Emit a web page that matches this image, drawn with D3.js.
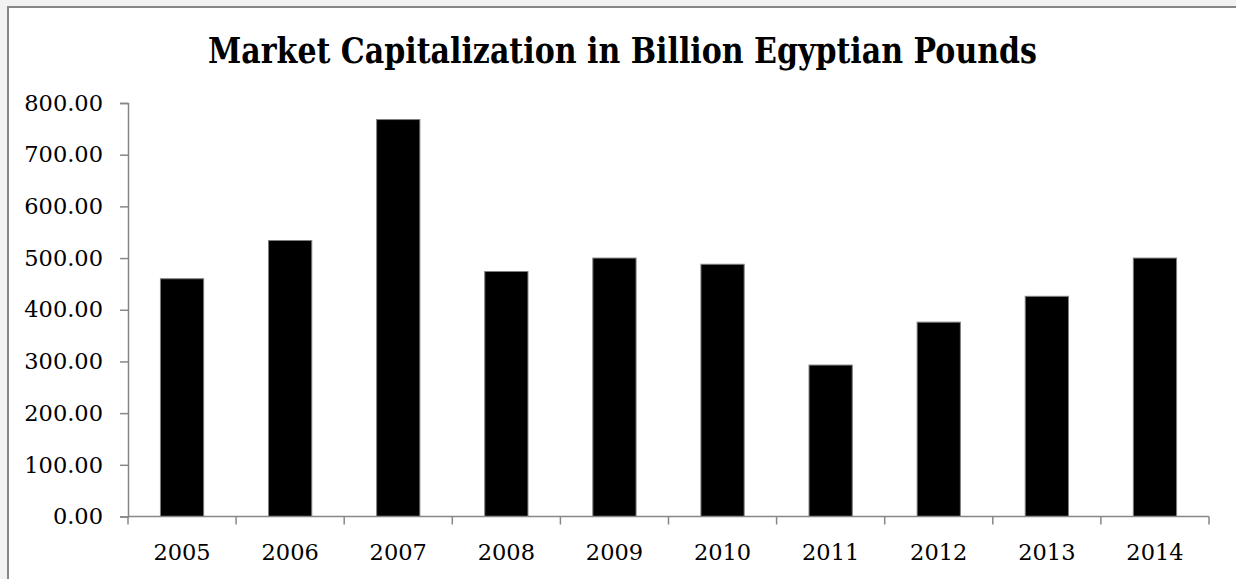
<!DOCTYPE html>
<html lang="en">
<head>
    <meta charset="UTF-8">
    <title>Market Capitalization</title>
    <script src="https://cdn.jsdelivr.net/npm/d3@7"></script>
    <style>
        body { margin: 0; background: #f2f2f2; }
        svg { display: block; }
    </style>
</head>
<body>
    <script>
        // values
        let years = ['2005', '2006', '2007', '2008', '2009', '2010', '2011', '2012', '2013', '2014'];
        let marketCap = [460, 534, 768, 474, 500, 488, 293, 376, 426, 500];
        let yTicks = [0, 100, 200, 300, 400, 500, 600, 700, 800];

        let width = 1236,
            height = 579,
            padding = { top: 103, left: 128, bottom: 62.5, right: 27 };

        let svg = d3.select('body').append('svg').attr('width', width).attr('height', height);

        // chart frame (runs off the right and bottom edges)
        svg.append('rect')
            .attr('x', 8)
            .attr('y', 7)
            .attr('width', width + 20)
            .attr('height', height + 20)
            .attr('fill', '#fff')
            .attr('stroke', '#878787')
            .attr('stroke-width', 2);

        svg.append('text')
            .attr('x', 622.5)
            .attr('y', 63)
            .attr('text-anchor', 'middle')
            .attr('textLength', 829)
            .attr('lengthAdjust', 'spacingAndGlyphs')
            .style('font-family', '"DejaVu Serif", serif')
            .style('font-weight', 'bold')
            .style('font-size', '35px')
            .text('Market Capitalization in Billion Egyptian Pounds');

        let x = d3.scaleBand()
            .domain(years)
            .range([padding.left, width - padding.right])
            .paddingInner(0.6)
            .paddingOuter(0.3);

        let y = d3.scaleLinear()
            .domain([0, 800])
            .range([height - padding.bottom, padding.top]);

        svg.selectAll('.bar')
            .data(marketCap)
            .enter()
            .append('rect')
            .attr('class', 'bar')
            .attr('x', (d, i) => x(years[i]))
            .attr('y', d => y(d))
            .attr('width', x.bandwidth())
            .attr('height', d => y(0) - y(d))
            .attr('fill', '#000')
            .attr('stroke', '#7f7f7f')
            .attr('stroke-width', 1);

        let yAxis = d3.axisLeft(y)
            .tickValues(yTicks)
            .tickFormat(d3.format('.2f'))
            .tickSize(8)
            .tickPadding(17);
        let gy = svg.append('g')
            .attr('transform', 'translate(' + padding.left + ',0)')
            .call(yAxis);

        // x axis ticks sit on the band edges, like Excel
        let xEdges = years.map(d => x(d) - x.step() * x.paddingInner() / 2).concat([width - padding.right]);
        let gx = svg.append('g')
            .attr('transform', 'translate(0,' + (height - padding.bottom) + ')');
        gx.append('line')
            .attr('x1', padding.left).attr('x2', width - padding.right)
            .attr('y1', 0).attr('y2', 0);
        gx.selectAll('.edge')
            .data(xEdges)
            .enter()
            .append('line')
            .attr('class', 'edge')
            .attr('x1', d => d).attr('x2', d => d)
            .attr('y1', 0).attr('y2', 8);
        gx.selectAll('text')
            .data(years)
            .enter()
            .append('text')
            .attr('x', d => x(d) + x.bandwidth() / 2)
            .attr('y', 43)
            .attr('text-anchor', 'middle')
            .text(d => d);
        gx.selectAll('line').attr('stroke', '#878787').attr('stroke-width', 1.5);

        gy.select('.domain').attr('stroke', '#878787').attr('stroke-width', 1.5);
        gy.selectAll('.tick line').attr('stroke', '#878787').attr('stroke-width', 1.5);
        svg.selectAll('g text')
            .attr('fill', '#000')
            .style('font-family', '"DejaVu Serif", serif')
            .style('font-size', '22.5px');
    </script>
</body>
</html>
